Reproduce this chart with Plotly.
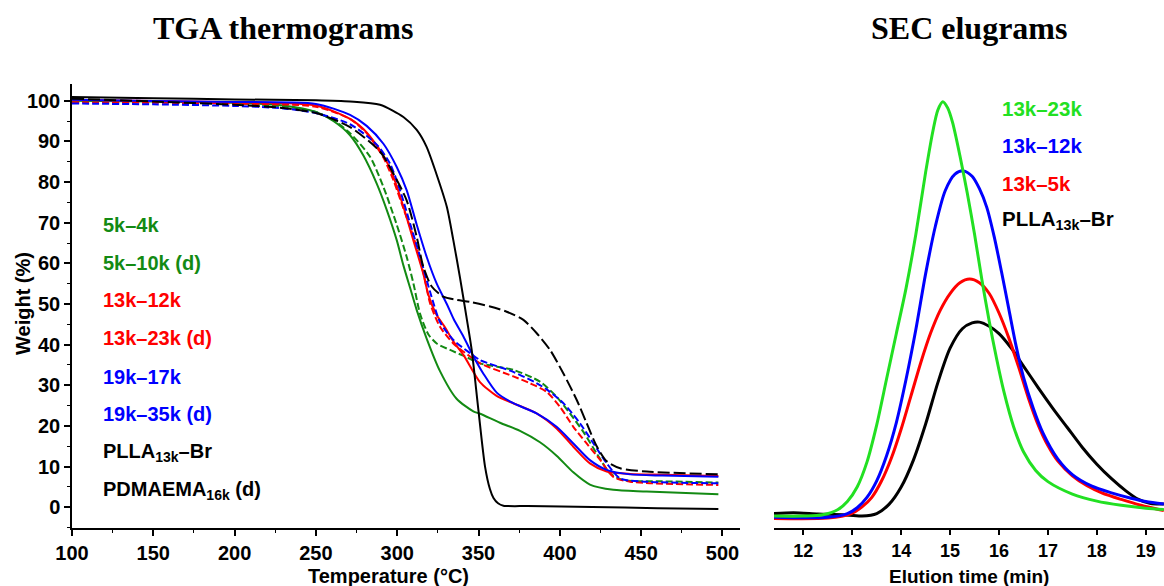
import plotly.graph_objects as go

# ---------------- TGA thermograms (temperature in °C, weight in %) ----------------
tga_5k_4k_T = [100, 150, 200, 230, 250, 260.7, 271, 279.2, 287.4, 293.6, 299.7, 303.8, 307.9, 312,
               318.1, 326.3, 336.5, 346.8, 351, 363.2, 375.5, 387.8, 398, 408.3, 418.5, 432.9, 453.4, 497.5]
tga_5k_4k_W = [100.0, 99.8, 99.5, 98.8, 97.2, 95.0, 91.5, 86.5, 79.6, 73.1, 65.7, 59.5, 54.0, 48.5,
               41.5, 33.5, 26.7, 23.6, 23.0, 20.8, 18.8, 16.0, 12.7, 8.6, 5.6, 4.3, 3.9, 3.2]

tga_5k_10k_T = [100, 150, 200, 230, 250, 260.7, 271, 283.3, 291.5, 299.7, 305.8, 310, 314.1, 319.2,
                324.3, 332.5, 341.7, 351, 371.4, 387.8, 398, 406.2, 414.4, 422.6, 430.8, 439, 462.7, 497.5]
tga_5k_10k_W = [99.8, 99.6, 99.3, 98.6, 97.2, 95.2, 92.0, 86.2, 78.8, 69.5, 61.6, 55.0, 47.5, 42.5,
                40.3, 38.7, 37.1, 35.4, 33.8, 30.9, 27.2, 23.1, 18.6, 13.3, 8.4, 6.7, 6.4, 6.1]

tga_13k_12k_T = [100, 150, 200, 250, 271, 281.2, 291.5, 297.6, 303.8, 309.9, 316, 319, 324, 329,
                 334.5, 340.7, 350.9, 361.1, 371.4, 385.7, 398, 408.3, 418.5, 428.8, 443.2, 463.7, 497.5]
tga_13k_12k_W = [100.2, 99.9, 99.6, 98.8, 95.5, 92.2, 86.5, 81.3, 73.9, 65.7, 57.5, 52.5, 47.5, 44.5,
                 40.8, 37.5, 30.8, 27.4, 25.6, 23.1, 19.4, 14.9, 10.8, 8.8, 8.2, 8.0, 7.7]

tga_13k_23k_T = [100, 150, 200, 250, 271, 281.2, 291.5, 297.6, 303.8, 310, 316.2, 320.2, 326.3,
                 334.5, 344.8, 350.9, 371.4, 381.7, 391.9, 400.1, 408.3, 416.5, 424.7, 432.9, 443.2, 497.5]
tga_13k_23k_W = [99.6, 99.5, 99.3, 98.5, 95.5, 92.0, 86.0, 80.5, 73.5, 66.5, 57.5, 50.2, 44.4,
                 40.3, 37.1, 35.4, 32.2, 30.5, 28.4, 24.7, 19.8, 15.7, 11.7, 7.5, 6.3, 5.5]

tga_19k_17k_T = [100, 150, 200, 250, 271, 281.2, 291.5, 299.7, 305.8, 312, 318.2, 324.3, 330.5,
                 334.7, 340.7, 346.9, 353.1, 361.2, 371.4, 385.7, 398, 408.3, 418.5, 428.8, 443.2, 463, 497.5]
tga_19k_17k_W = [100.2, 99.9, 99.7, 99.2, 96.5, 93.8, 89.4, 83.7, 78.0, 69.5, 61.5, 55.0, 50.0,
                 46.3, 42.0, 37.1, 32.8, 28.2, 25.6, 23.1, 19.8, 15.7, 11.6, 9.2, 8.1, 7.8, 7.5]

tga_19k_35k_T = [100, 150, 200, 230, 250.5, 271, 287.4, 295.6, 301.7, 307.9, 314.1, 320.2, 326.4,
                 334.7, 344.9, 351, 371.4, 385.9, 391.9, 402.2, 412.5, 420.7, 428.9, 437.1, 453.5, 497.5]
tga_19k_35k_W = [99.3, 99.1, 98.7, 98.1, 96.9, 94.2, 89.2, 84.5, 78.0, 69.8, 61.6, 53.0, 45.5,
                 41.1, 37.9, 36.2, 33.3, 30.5, 29.0, 25.6, 20.6, 15.7, 10.8, 7.1, 6.3, 5.9]

tga_plla_T = [100, 150, 200, 250, 271, 289.4, 303.8, 312, 318, 324, 330.5, 334.5, 338.6, 342.5,
              345.8, 349.9, 354, 357, 359.2, 362, 365.3, 380, 420, 460, 497.5]
tga_plla_W = [100.9, 100.6, 100.3, 100.1, 99.8, 99.0, 96.0, 92.8, 88.7, 82.1, 73.9, 65.7, 56.5, 47.0,
              38.7, 24.0, 10.0, 4.5, 2.3, 1.0, 0.4, 0.3, 0.1, -0.2, -0.4]

tga_pdmaema_T = [100, 150, 200, 230, 250.5, 271, 289.4, 297.6, 305.8, 312, 316, 321.2, 328.3, 336.5,
                 344.8, 357.1, 367.3, 377.6, 385.8, 394, 402.2, 410.4, 416.5, 422.7, 428.9, 437.1,
                 453.5, 497.5]
tga_pdmaema_W = [100.5, 99.8, 99.0, 98.2, 96.9, 93.5, 87.5, 82.1, 75.5, 66.5, 59.2, 54.3, 51.8, 51.0,
                 50.5, 49.4, 48.1, 46.1, 42.8, 38.7, 32.9, 26.4, 20.7, 15.0, 11.3, 9.6, 8.8, 8.1]

tga_labels = ["5k–4k", "5k–10k (d)", "13k–12k", "13k–23k (d)", "19k–17k", "19k–35k (d)",
              "PLLA<sub>13k</sub>–Br", "PDMAEMA<sub>16k</sub> (d)"]

# ---------------- SEC elugrams (elution time in min, normalised RI signal) ----------------
sec_23k_t = [11.4, 12.0, 12.4, 12.7, 12.9, 13.1, 13.3, 13.5, 13.7, 13.9, 14.1, 14.3, 14.5, 14.65,
             14.75, 14.85, 14.95, 15.05, 15.2, 15.35, 15.5, 15.65, 15.8, 15.95, 16.1, 16.3, 16.5,
             16.75, 17.0, 17.5, 18.0, 18.5, 19.0, 19.37]
sec_23k_s = [0.0, 0.0, 0.003, 0.015, 0.035, 0.07, 0.13, 0.22, 0.33, 0.44, 0.55, 0.68, 0.83, 0.93,
             0.98, 1.0, 0.985, 0.95, 0.87, 0.78, 0.68, 0.57, 0.47, 0.38, 0.30, 0.215, 0.155,
             0.11, 0.083, 0.053, 0.036, 0.026, 0.019, 0.016]

sec_12k_t = [11.4, 12.5, 12.9, 13.1, 13.3, 13.5, 13.7, 13.9, 14.1, 14.3, 14.5, 14.7, 14.9, 15.1,
             15.27, 15.45, 15.6, 15.75, 15.9, 16.05, 16.2, 16.35, 16.5, 16.7, 16.9, 17.2, 17.5,
             17.9, 18.3, 18.7, 19.0, 19.37]
sec_12k_s = [-0.003, -0.003, 0.006, 0.02, 0.045, 0.085, 0.145, 0.225, 0.33, 0.45, 0.585, 0.70,
             0.785, 0.825, 0.833, 0.82, 0.79, 0.745, 0.675, 0.59, 0.50, 0.41, 0.335, 0.26, 0.2,
             0.138, 0.1, 0.072, 0.056, 0.043, 0.035, 0.029]

sec_5k_t = [11.4, 12.5, 12.97, 13.2, 13.4, 13.6, 13.8, 14.0, 14.2, 14.4, 14.6, 14.8, 15.0, 15.2,
            15.4, 15.6, 15.8, 16.0, 16.2, 16.4, 16.6, 16.8, 17.0, 17.2, 17.5, 17.8, 18.1, 18.5,
            18.9, 19.37]
sec_5k_s = [-0.006, -0.005, 0.005, 0.022, 0.045, 0.085, 0.14, 0.21, 0.29, 0.37, 0.441, 0.497,
            0.537, 0.563, 0.572, 0.563, 0.537, 0.49, 0.43, 0.36, 0.285, 0.22, 0.17, 0.133, 0.097,
            0.073, 0.056, 0.04, 0.026, 0.013]

sec_plla_t = [11.4, 11.8, 12.3, 12.8, 13.2, 13.5, 13.75, 14.0, 14.25, 14.5, 14.75, 15.0, 15.25,
              15.45, 15.6, 15.8, 16.0, 16.25, 16.5, 16.8, 17.1, 17.4, 17.7, 18.0, 18.3, 18.6,
              18.85, 19.1, 19.37]
sec_plla_s = [0.006, 0.008, 0.005, 0.003, 0.0, 0.006, 0.028, 0.07, 0.135, 0.222, 0.322, 0.405,
              0.452, 0.466, 0.468, 0.458, 0.44, 0.405, 0.362, 0.31, 0.26, 0.213, 0.166, 0.125,
              0.09, 0.06, 0.04, 0.03, 0.029]

sec_labels = ["13k–23k", "13k–12k", "13k–5k", "PLLA<sub>13k</sub>–Br"]

# ---------------- styling ----------------
W_PX, H_PX = 1164, 586
SANS = "Liberation Sans, Arial, sans-serif"
SERIF = "Liberation Serif, Times New Roman, serif"
DGREEN, RED, BLUE, BLACK, LIME = "#138a13", "#ff0000", "#0000ff", "#000000", "#22e022"
DASH = "7px,3px"
LONG_DASH = "12px,4px"


def fx(px):
    return px / W_PX


def fy(py):
    return 1 - py / H_PX


fig = go.Figure()

tga_series = [
    (tga_5k_4k_T, tga_5k_4k_W, DGREEN, "solid"),
    (tga_5k_10k_T, tga_5k_10k_W, DGREEN, DASH),
    (tga_13k_12k_T, tga_13k_12k_W, RED, "solid"),
    (tga_13k_23k_T, tga_13k_23k_W, RED, DASH),
    (tga_19k_17k_T, tga_19k_17k_W, BLUE, "solid"),
    (tga_19k_35k_T, tga_19k_35k_W, BLUE, DASH),
    (tga_plla_T, tga_plla_W, BLACK, "solid"),
    (tga_pdmaema_T, tga_pdmaema_W, BLACK, LONG_DASH),
]
for (T, Wt, col, dash), name in zip(tga_series, tga_labels):
    fig.add_trace(go.Scatter(x=T, y=Wt, mode="lines", name=name, xaxis="x", yaxis="y",
                             line=dict(color=col, width=2, dash=dash, shape="spline", smoothing=0.7)))

sec_series = [
    (sec_23k_t, sec_23k_s, LIME),
    (sec_12k_t, sec_12k_s, BLUE),
    (sec_5k_t, sec_5k_s, RED),
    (sec_plla_t, sec_plla_s, BLACK),
]
# the reference polymer goes first so the copolymers sit on top of it
for (t, s, col), name in reversed(list(zip(sec_series, sec_labels))):
    fig.add_trace(go.Scatter(x=t, y=s, mode="lines", name=name, xaxis="x2", yaxis="y2",
                             line=dict(color=col, width=3, shape="spline", smoothing=0.8)))

tick_font = dict(family=SANS, size=20, color="black", weight="bold")
fig.update_layout(
    width=W_PX, height=H_PX,
    margin=dict(l=0, r=0, t=0, b=0, autoexpand=False),
    paper_bgcolor="white", plot_bgcolor="white",
    showlegend=False,
    xaxis=dict(domain=[fx(72), fx(740)], range=[100, 510.8], anchor="y", automargin=False,
               showline=True, linecolor="black", linewidth=1.5, showgrid=False, zeroline=False,
               tickmode="linear", tick0=100, dtick=50, ticks="outside", ticklen=6, tickwidth=1.5,
               tickcolor="black", tickfont=tick_font,
               minor=dict(ticks="outside", ticklen=3, tickwidth=1.2, tickcolor="black", dtick=25,
                          showgrid=False)),
    yaxis=dict(domain=[fy(528.3), fy(84)], range=[-5.16, 104.1], anchor="x", automargin=False,
               showline=True, linecolor="black", linewidth=1.5, showgrid=False, zeroline=False,
               tickmode="linear", tick0=0, dtick=10, ticks="outside", ticklen=6, tickwidth=1.5,
               tickcolor="black", tickfont=tick_font,
               minor=dict(ticks="outside", ticklen=3, tickwidth=1.2, tickcolor="black", dtick=5,
                          showgrid=False)),
    xaxis2=dict(domain=[fx(774), 1.0], range=[11.40, 19.373], anchor="y2", automargin=False,
                showline=True, linecolor="black", linewidth=1.5, showgrid=False, zeroline=False,
                tickmode="linear", tick0=12, dtick=1, ticks="outside", ticklen=6, tickwidth=1.5,
                tickcolor="black", tickfont=dict(family=SANS, size=18, color="black", weight="bold")),
    yaxis2=dict(domain=[fy(527.7), fy(84)], range=[-0.0282, 1.0427], anchor="x2", automargin=False,
                visible=False, showgrid=False, zeroline=False),
)


def paper_text(text, px, py, size, color="black", family=SANS, anchor="left", angle=0):
    return dict(text=text, x=fx(px), y=fy(py), xref="paper", yref="paper",
                xanchor=anchor, yanchor="middle", showarrow=False, textangle=angle,
                font=dict(family=family, size=size, color=color))


annotations = [
    paper_text("<b>TGA thermograms</b>", 283, 28, 32, family=SERIF, anchor="center"),
    paper_text("<b>SEC elugrams</b>", 969, 28, 32, family=SERIF, anchor="center"),
    paper_text("<b>Temperature (°C)</b>", 388, 576, 20, anchor="center"),
    paper_text("<b>Elution time (min)</b>", 969, 576, 19, anchor="center"),
    paper_text("<b>Weight (%)</b>", 23, 304, 20, anchor="center", angle=-90),
]
tga_label_colors = [DGREEN, DGREEN, RED, RED, BLUE, BLUE, BLACK, BLACK]
tga_label_y = [225, 263.3, 300, 338.3, 377.3, 414.3, 452.7, 490.7]
for name, col, py in zip(tga_labels, tga_label_colors, tga_label_y):
    annotations.append(paper_text(f"<b>{name}</b>", 101, py, 20, color=col))
sec_label_colors = [LIME, BLUE, RED, BLACK]
sec_label_y = [108.3, 145, 183.3, 220]
for name, col, py in zip(sec_labels, sec_label_colors, sec_label_y):
    annotations.append(paper_text(f"<b>{name}</b>", 1000, py, 20.5, color=col))
fig.update_layout(annotations=annotations)

fig.write_html("out.html")
